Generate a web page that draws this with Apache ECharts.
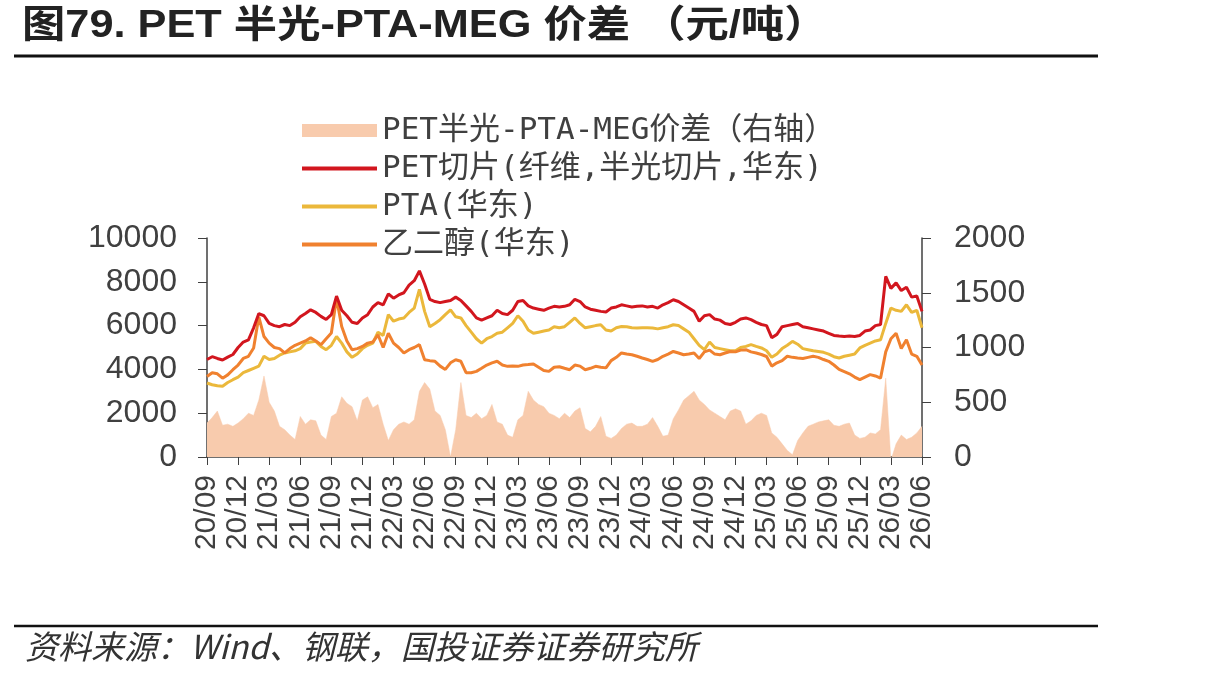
<!DOCTYPE html>
<html>
<head>
<meta charset="utf-8">
<script src="https://cdn.jsdelivr.net/npm/echarts@6/dist/echarts.min.js"></script>
<style>
  html, body { margin: 0; padding: 0; background: #fff; }
  #chart { width: 1213px; height: 678px; }
</style>
</head>
<body>
<div id="chart"></div>
<script>
// half-month samples, starting 2020/09; one row = one quarter
const petChip = [
  4450, 4580, 4500, 4430, 4560, 4680,
  5000, 5250, 5350, 5900, 6550, 6450,
  6100, 6000, 5950, 6050, 6000, 6150,
  6400, 6550, 6720, 6600, 6420, 6280,
  6500, 7350, 6700, 6450, 6150, 6100,
  6350, 6500, 6850, 7050, 6950, 7450,
  7250, 7400, 7500, 7850, 8050, 8500,
  7900, 7200, 7100, 7050, 7100, 7150,
  7300, 7150, 6900, 6650, 6350, 6250,
  6350, 6450, 6700, 6550, 6500, 6700,
  7100, 7150, 6900, 6800, 6750, 6700,
  6800, 6880, 6850, 6880, 6950, 7200,
  7100, 6850, 6750, 6700, 6650, 6620,
  6800, 6850, 6950, 6900, 6850, 6880,
  6900, 6850, 6880, 6800, 6950, 7050,
  7180, 7100, 6950, 6800, 6650, 6200,
  6450, 6500, 6300, 6250, 6100, 6050,
  6150, 6300, 6350, 6270, 6150, 6050,
  6000, 5450, 5600, 5950, 6000, 6050,
  6100, 5950, 5900, 5850, 5800, 5750,
  5650, 5550, 5520, 5500, 5520, 5500,
  5550, 5750, 5800, 6000, 6050, 8250,
  7700, 7950, 7600, 7750, 7300, 7350,
  6650
];
const pta = [
  3380, 3300, 3250, 3230, 3400, 3530,
  3650, 3850, 3950, 4050, 4150, 4600,
  4450, 4500, 4650, 4750, 4800, 4850,
  4950, 5200, 5250, 5280, 5050, 4900,
  5100, 5500, 5200, 4800, 4550, 4700,
  4950, 5100, 5200, 5700, 5550, 6500,
  6200, 6300, 6350, 6600, 6800, 7650,
  6650, 5950, 6100, 6270, 6500, 6720,
  6400, 6350, 6000, 5700, 5400, 5200,
  5400, 5500, 5650, 5700, 5900, 6100,
  6450, 6200, 5800, 5650, 5700, 5750,
  5800, 5950, 5900, 5950, 6150, 6350,
  6100, 5900, 5950, 6000, 6040, 5800,
  5750, 5900, 5960, 5950, 5900, 5890,
  5900, 5900, 5890, 5850, 5900, 5950,
  6040, 6000, 5850, 5700, 5400, 5100,
  4900, 5250, 5000, 4950, 4900, 4850,
  4850, 5000, 5050, 5130, 5050, 4980,
  4850, 4550, 4700, 4950, 5100, 5280,
  5150, 4950, 4900, 4850, 4820, 4780,
  4700, 4580, 4520, 4600, 4650, 4700,
  4980, 5100, 5200, 5300, 5350, 6100,
  6800, 6700, 6650, 6950, 6600, 6700,
  5900
];
const meg = [
  3680, 3850, 3800, 3600, 3750, 3985,
  4200, 4500, 4600, 4980, 6400, 5500,
  5200, 5000, 4950, 4750, 4950, 5100,
  5200, 5300, 5450, 5300, 5130, 5400,
  5660, 7250, 5960, 5300, 4900, 4950,
  5050, 5200, 5250, 5580, 5000, 5650,
  5200, 5000, 4750, 4900, 5000, 5130,
  4440, 4400, 4370, 4150, 4000, 4300,
  4440, 4370, 3850, 3850, 3910, 4050,
  4200, 4300, 4370, 4200, 4140, 4150,
  4140, 4200, 4220, 4250, 4100, 3950,
  3910, 4100, 4120, 4050, 3985, 4200,
  4150, 3985, 4050, 4140, 4100, 4070,
  4400, 4550, 4750, 4700, 4670, 4600,
  4520, 4450, 4370, 4450, 4600, 4700,
  4820, 4750, 4670, 4700, 4750, 4500,
  4800, 4880, 4700, 4670, 4750, 4820,
  4800, 4880, 4900, 4800, 4750, 4680,
  4590, 4150, 4300, 4400, 4600, 4550,
  4520, 4500, 4550, 4600, 4550, 4450,
  4370, 4200, 4000, 3900, 3800, 3650,
  3530, 3650, 3760, 3700, 3600, 4800,
  5400, 5650, 4950, 5350, 4700, 4600,
  4200
];
const spread = [
  310, 360, 420, 290, 300, 280,
  310, 350, 400, 380, 520, 740,
  500, 420, 280, 250, 200, 160,
  370, 300, 340, 330, 200, 160,
  370, 400, 550, 490, 460, 330,
  520, 550, 450, 480, 300, 150,
  250, 300, 320, 300, 340, 600,
  680, 620, 420, 380, 250, 0,
  250, 680, 380, 360, 400, 350,
  380, 480, 320, 300, 200, 180,
  340, 380, 600, 520, 480, 460,
  400, 380, 350, 400, 360, 420,
  450, 260, 230, 280, 370, 190,
  170, 200, 260, 300, 310, 280,
  280, 300, 360, 280, 190, 200,
  350, 430, 520, 560, 600, 520,
  480, 430, 400, 370, 340, 420,
  440, 420, 300, 330, 380, 400,
  380, 220, 180, 120, 60, 20,
  150, 220, 280, 300, 320, 330,
  340, 290, 280, 300, 310, 200,
  170, 180, 220, 210, 250, 720,
  -30, 120, 200, 160, 180, 220,
  280
];
const leftTicks = [0, 10000, 2000];
const rightTicks = [0, 2000, 500];
const names = ['PET半光-PTA-MEG价差（右轴）', 'PET切片(纤维,半光切片,华东)', 'PTA(华东)', '乙二醇(华东)'];
const colors = ['#F8CBAD', '#D2161E', '#EBB83B', '#F0812F'];

// x = months after 2020/09
const pairs = arr => arr.map((v, i) => [i * 0.5, v]);
const monthLabel = v => {
  const k = 8 + v;
  const yy = 20 + Math.floor(k / 12);
  const mm = (k % 12) + 1;
  return yy + '/' + (mm < 10 ? '0' + mm : mm);
};

const axisGray = '#404040';
const lineIcon = 'path://M0,0 L75,0 L75,4 L0,4 Z';
const chart = echarts.init(document.getElementById('chart'));
chart.setOption({
  animation: false,
  textStyle: { fontFamily: 'Liberation Sans, Noto Sans CJK SC, sans-serif' },
  grid: { left: 207, right: 291, top: 238, bottom: 221, containLabel: false },
  legend: {
    orient: 'vertical',
    left: 297,
    top: 110,
    itemWidth: 75,
    itemHeight: 13,
    itemGap: 7,
    textStyle: {
      fontFamily: 'DejaVu Sans Mono, Noto Sans CJK SC, sans-serif',
      fontSize: 31,
      lineHeight: 30,
      color: axisGray
    },
    data: [
      { name: names[0], icon: 'rect' },
      { name: names[1], icon: lineIcon },
      { name: names[2], icon: lineIcon },
      { name: names[3], icon: lineIcon }
    ]
  },
  xAxis: {
    type: 'value',
    min: 0,
    max: 69,
    interval: 3,
    splitLine: { show: false },
    axisLine: { lineStyle: { color: axisGray, width: 1.5 } },
    axisTick: { show: true, length: 8, lineStyle: { color: axisGray } },
    axisLabel: {
      rotate: 90,
      margin: 18,
      fontSize: 30,
      lineHeight: 20,
      color: axisGray,
      showMinLabel: true,
      showMaxLabel: true,
      hideOverlap: false,
      formatter: monthLabel
    }
  },
  yAxis: [
    {
      type: 'value',
      min: leftTicks[0],
      max: leftTicks[1],
      interval: leftTicks[2],
      splitLine: { show: false },
      axisLine: { show: true, lineStyle: { color: axisGray, width: 1.5 } },
      axisTick: { show: true, length: 9, lineStyle: { color: axisGray } },
      axisLabel: { fontSize: 32, color: axisGray, margin: 30, formatter: v => String(v) }
    },
    {
      type: 'value',
      min: rightTicks[0],
      max: rightTicks[1],
      interval: rightTicks[2],
      splitLine: { show: false },
      axisLine: { show: true, lineStyle: { color: axisGray, width: 1.5 } },
      axisTick: { show: true, length: 9, lineStyle: { color: axisGray } },
      axisLabel: { fontSize: 32, color: axisGray, margin: 32, formatter: v => String(v) }
    }
  ],
  series: [
    {
      name: names[0],
      type: 'line',
      yAxisIndex: 1,
      data: pairs(spread),
      symbol: 'none',
      itemStyle: { color: colors[0] },
      lineStyle: { width: 0.5, color: colors[0] },
      areaStyle: { color: colors[0], opacity: 1 },
      z: 1
    },
    {
      name: names[1],
      type: 'line',
      data: pairs(petChip),
      symbol: 'none',
      itemStyle: { color: colors[1] },
      lineStyle: { width: 3, color: colors[1] },
      z: 4
    },
    {
      name: names[2],
      type: 'line',
      data: pairs(pta),
      symbol: 'none',
      itemStyle: { color: colors[2] },
      lineStyle: { width: 3, color: colors[2] },
      z: 3
    },
    {
      name: names[3],
      type: 'line',
      data: pairs(meg),
      symbol: 'none',
      itemStyle: { color: colors[3] },
      lineStyle: { width: 3, color: colors[3] },
      z: 3
    }
  ],
  graphic: [
    {
      type: 'text',
      x: 22,
      y: 8,
      scaleX: 1.14,
      style: {
        text: '图79. PET 半光-PTA-MEG 价差 （元/吨）',
        font: 'bold 38px "Liberation Sans", "Noto Sans CJK SC", sans-serif',
        fill: '#222',
        textVerticalAlign: 'top'
      }
    },
    {
      type: 'line',
      shape: { x1: 14, y1: 56, x2: 1098, y2: 56 },
      style: { stroke: '#111', lineWidth: 3 }
    },
    {
      type: 'line',
      shape: { x1: 14, y1: 626, x2: 1098, y2: 626 },
      style: { stroke: '#111', lineWidth: 2.5 }
    },
    {
      type: 'text',
      left: 25,
      top: 630,
      style: {
        text: '资料来源：Wind、钢联，国投证券证券研究所',
        font: 'italic 33px "Noto Sans CJK SC", sans-serif',
        fill: '#333'
      }
    }
  ]
});
</script>
</body>
</html>
